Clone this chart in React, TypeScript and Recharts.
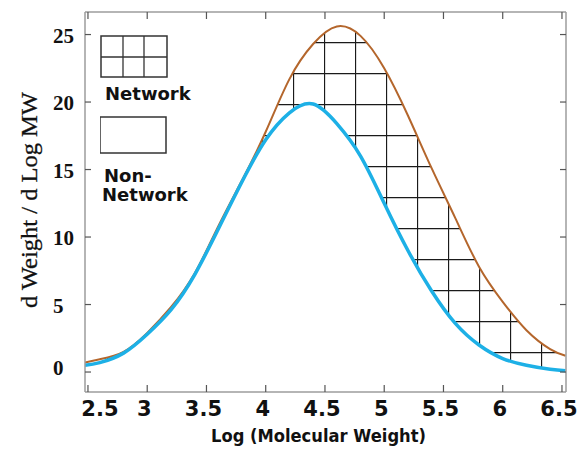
import {
  Area,
  ComposedChart,
  Label,
  Legend,
  Line,
  XAxis,
  YAxis,
} from "recharts";

const LOG_MW = [2.475, 2.6, 2.8, 3.0, 3.2, 3.4, 3.6, 3.8, 4.0, 4.2, 4.4, 4.6, 4.8, 5.0, 5.2, 5.4, 5.6, 5.8, 6.0, 6.2, 6.4, 6.53];
const TOTAL = [0.7, 0.95, 1.5, 2.9, 4.8, 7.3, 10.8, 14.2, 17.8, 21.7, 24.3, 25.6, 24.9, 22.5, 19.0, 15.1, 11.4, 7.8, 5.2, 3.1, 1.7, 1.2];
const NON_NETWORK = [0.5, 0.7, 1.4, 2.8, 4.6, 7.2, 10.6, 14.1, 17.2, 19.2, 19.85, 18.4, 16.0, 12.5, 9.0, 6.0, 3.6, 2.0, 1.0, 0.5, 0.2, 0.1];

const X_TICKS = [2.5, 3, 3.5, 4, 4.5, 5, 5.5, 6, 6.5];
const Y_TICKS = [0, 5, 10, 15, 20, 25];

const X_DOMAIN: [number, number] = [2.475, 6.534];
const Y_DOMAIN: [number, number] = [-1.48, 26.67];

const BROWN = "#b4662c";
const BLUE = "#1db0e6";
const FRAME = "#9c9c9c";
const TICK = "#555";

const chartData = LOG_MW.map((x, i) => ({
  x,
  total: TOTAL[i],
  nonNetwork: NON_NETWORK[i],
}));

const sansBold = { fontFamily: "'DejaVu Sans', sans-serif", fontWeight: 700 };

function BottomTick(props: any) {
  const { x, y, payload, index } = props;
  // first label sits right of its tick so it stays inside the frame
  const shift = index === 0 ? 12 : -3;
  return (
    <g>
      <line x1={x} y1={y} x2={x} y2={y - 7} stroke={TICK} strokeWidth={1.2} />
      <text x={x + shift} y={y + 24} textAnchor="middle" fontSize={21} fill="#111" style={sansBold}>
        {payload.value}
      </text>
    </g>
  );
}

function TopTick(props: any) {
  const { x, y } = props;
  return <line x1={x} y1={y} x2={x} y2={y + 7} stroke={TICK} strokeWidth={1.2} />;
}

function LeftTick(props: any) {
  const { x, y, payload } = props;
  return (
    <g>
      <line x1={x} y1={y} x2={x + 6} y2={y} stroke={TICK} strokeWidth={1.2} />
      <text
        x={x - 32}
        y={payload.value === 0 ? y - 4 : y + 1}
        textAnchor="start"
        dominantBaseline="central"
        fontSize={21}
        fontWeight={700}
        fontFamily="'Liberation Serif', serif"
        fill="#111"
      >
        {payload.value}
      </text>
    </g>
  );
}

function RightTick(props: any) {
  const { x, y } = props;
  return <line x1={x} y1={y} x2={x - 6} y2={y} stroke={TICK} strokeWidth={1.2} />;
}

function XTitle(props: any) {
  const { x, y, width } = props.viewBox;
  return (
    <text
      x={x + width / 2 - 7}
      y={y + 50}
      textAnchor="middle"
      fontSize={18}
      fill="#111"
      style={sansBold}
      textLength={215}
      lengthAdjust="spacingAndGlyphs"
    >
      Log (Molecular Weight)
    </text>
  );
}

function YTitle(props: any) {
  const { x, y, height } = props.viewBox;
  const cx = x + 37;
  const cy = y + height / 2 - 2;
  return (
    <text
      x={cx}
      y={cy}
      transform={`rotate(-90, ${cx}, ${cy})`}
      textAnchor="middle"
      fontSize={23}
      fontFamily="'Liberation Serif', serif"
      fill="#111"
      stroke="#111"
      strokeWidth={0.3}
      textLength={216}
      lengthAdjust="spacingAndGlyphs"
    >
      d Weight / d Log MW
    </text>
  );
}

function LegendBox() {
  const textStyle = { ...sansBold, fontSize: 18, fill: "#111" };
  return (
    <svg width={100} height={175} style={{ display: "block" }}>
      <rect x={1} y={1} width={66} height={41} fill="none" stroke="#333" strokeWidth={1.5} />
      <line x1={23} y1={1} x2={23} y2={42} stroke="#333" strokeWidth={1.3} />
      <line x1={44} y1={1} x2={44} y2={42} stroke="#333" strokeWidth={1.3} />
      <line x1={1} y1={22} x2={67} y2={22} stroke="#333" strokeWidth={1.3} />
      <text x={5} y={65} style={textStyle}>Network</text>
      <rect x={0} y={82} width={66} height={36} fill="none" stroke="#333" strokeWidth={1.5} />
      <text x={4} y={147} style={textStyle}>Non-</text>
      <text x={2} y={166} style={textStyle}>Network</text>
    </svg>
  );
}

export default function App() {
  return (
    <div style={{ position: "absolute", left: 0, top: 0, width: 583, height: 452, background: "#fff" }}>
      <ComposedChart width={583} height={452} data={chartData} margin={{ top: 0, right: 0, bottom: 0, left: 0 }}>
        <defs>
          <pattern id="networkGrid" patternUnits="userSpaceOnUse" x={14} y={11} width={31} height={31}>
            <path d="M0 0.5H31M0.5 0V31" stroke="#1a1a1a" strokeWidth={1.3} fill="none" />
          </pattern>
        </defs>
        <XAxis
          xAxisId="b"
          type="number"
          dataKey="x"
          domain={X_DOMAIN}
          allowDataOverflow
          ticks={X_TICKS}
          interval={0}
          height={60}
          tickSize={0}
          tickMargin={0}
          tickLine={false}
          axisLine={{ stroke: FRAME, strokeWidth: 1.5 }}
          tick={BottomTick}
        >
          <Label content={XTitle} />
        </XAxis>
        <XAxis
          xAxisId="t"
          orientation="top"
          type="number"
          dataKey="x"
          domain={X_DOMAIN}
          allowDataOverflow
          ticks={X_TICKS}
          interval={0}
          height={12}
          tickSize={0}
          tickMargin={0}
          tickLine={false}
          axisLine={{ stroke: FRAME, strokeWidth: 1.5 }}
          tick={TopTick}
        />
        <YAxis
          yAxisId="l"
          type="number"
          domain={Y_DOMAIN}
          allowDataOverflow
          ticks={Y_TICKS}
          interval={0}
          width={85}
          tickSize={0}
          tickMargin={0}
          tickLine={false}
          axisLine={{ stroke: FRAME, strokeWidth: 1.5 }}
          tick={LeftTick}
        >
          <Label content={YTitle} />
        </YAxis>
        <YAxis
          yAxisId="r"
          orientation="right"
          type="number"
          domain={Y_DOMAIN}
          allowDataOverflow
          ticks={Y_TICKS}
          interval={0}
          width={17}
          tickSize={0}
          tickMargin={0}
          tickLine={false}
          axisLine={{ stroke: FRAME, strokeWidth: 1.5 }}
          tick={RightTick}
        />
        <Area
          xAxisId="b"
          yAxisId="l"
          type="natural"
          dataKey={(d: any) => [d.nonNetwork, d.total]}
          fill="url(#networkGrid)"
          fillOpacity={1}
          stroke="none"
          isAnimationActive={false}
        />
        <Line
          xAxisId="b"
          yAxisId="l"
          type="natural"
          dataKey="total"
          stroke={BROWN}
          strokeWidth={2}
          dot={false}
          isAnimationActive={false}
        />
        <Line
          xAxisId="b"
          yAxisId="l"
          type="natural"
          dataKey="nonNetwork"
          stroke={BLUE}
          strokeWidth={3.5}
          dot={false}
          isAnimationActive={false}
        />
        <Legend
          layout="vertical"
          align="center"
          verticalAlign="middle"
          wrapperStyle={{ left: 100, top: 35, width: 100 }}
          content={() => <LegendBox />}
        />
      </ComposedChart>
    </div>
  );
}
